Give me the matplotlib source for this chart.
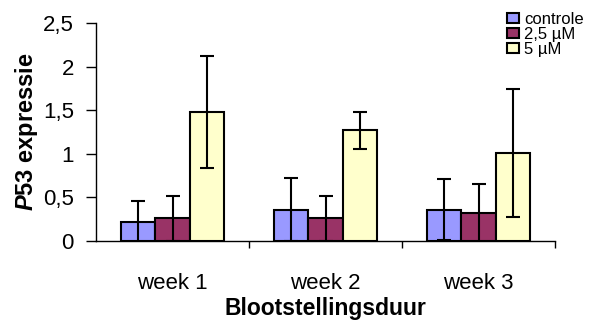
import matplotlib
matplotlib.use("Agg")
import matplotlib.pyplot as plt
import numpy as np

plt.rcParams['font.family'] = ['Liberation Sans', 'DejaVu Sans']
plt.rcParams['mathtext.fontset'] = 'custom'
plt.rcParams['mathtext.it'] = 'Liberation Sans:italic:bold'
plt.rcParams['mathtext.rm'] = 'Liberation Sans:bold'

categories = ["week 1", "week 2", "week 3"]
series_names = ["controle", "2,5 µM", "5 µM"]
values = {
    "controle": [0.22, 0.36, 0.36],
    "2,5 µM": [0.26, 0.26, 0.32],
    "5 µM": [1.48, 1.27, 1.01],
}
errors = {
    "controle": [0.24, 0.36, 0.35],
    "2,5 µM": [0.26, 0.26, 0.33],
    "5 µM": [0.64, 0.21, 0.73],
}
colors = ["#9999FF", "#993366", "#FFFFCC"]
ytick_vals = [0, 0.5, 1, 1.5, 2, 2.5]
ytick_labels = ["0", "0,5", "1", "1,5", "2", "2,5"]

fig = plt.figure(figsize=(5.97, 3.2), dpi=100)
ax = fig.add_axes([96/597, 1-241/320, (555-96)/597, (241-23)/320])

x = np.arange(len(categories))
w = 0.226
for i, name in enumerate(series_names):
    pos = x + (i - 1) * w
    ax.bar(pos, values[name], width=w, color=colors[i], edgecolor="black",
           linewidth=1.5, label=name, zorder=2)
    ax.errorbar(pos, values[name], yerr=errors[name], fmt="none", ecolor="black",
                elinewidth=1.5, capsize=5, capthick=1.5, zorder=3)

ax.set_xlim(-0.5, 2.5)
ax.set_ylim(0, 2.5)
ax.spines["top"].set_visible(False)
ax.spines["right"].set_visible(False)
ax.spines["left"].set_linewidth(1.0)
ax.spines["bottom"].set_linewidth(1.0)

ax.set_yticks(ytick_vals)
ax.set_yticklabels(ytick_labels, fontsize=16)
ax.tick_params(axis="y", length=7, width=1, pad=9)

ax.set_xticks(x)
ax.set_xticklabels(categories, fontsize=16)
ax.set_xticks([0.5, 1.5, 2.5], minor=True)
ax.tick_params(axis="x", which="major", length=0, pad=23)
ax.tick_params(axis="x", which="minor", length=5, width=1)

ax.set_xlabel("Blootstellingsduur", fontsize=16.5, fontweight="bold", labelpad=2)
ax.set_ylabel(r"$\mathit{P53}$ expressie", fontsize=17, fontweight="bold", labelpad=2)

leg = ax.legend(loc="upper left", bbox_to_anchor=(495/597, 1.0), bbox_transform=fig.transFigure,
                frameon=False, fontsize=12, handlelength=0.75, handleheight=0.6,
                handletextpad=0.3, labelspacing=0.0, borderpad=0.2)

fig.savefig("out.png", dpi=100)
